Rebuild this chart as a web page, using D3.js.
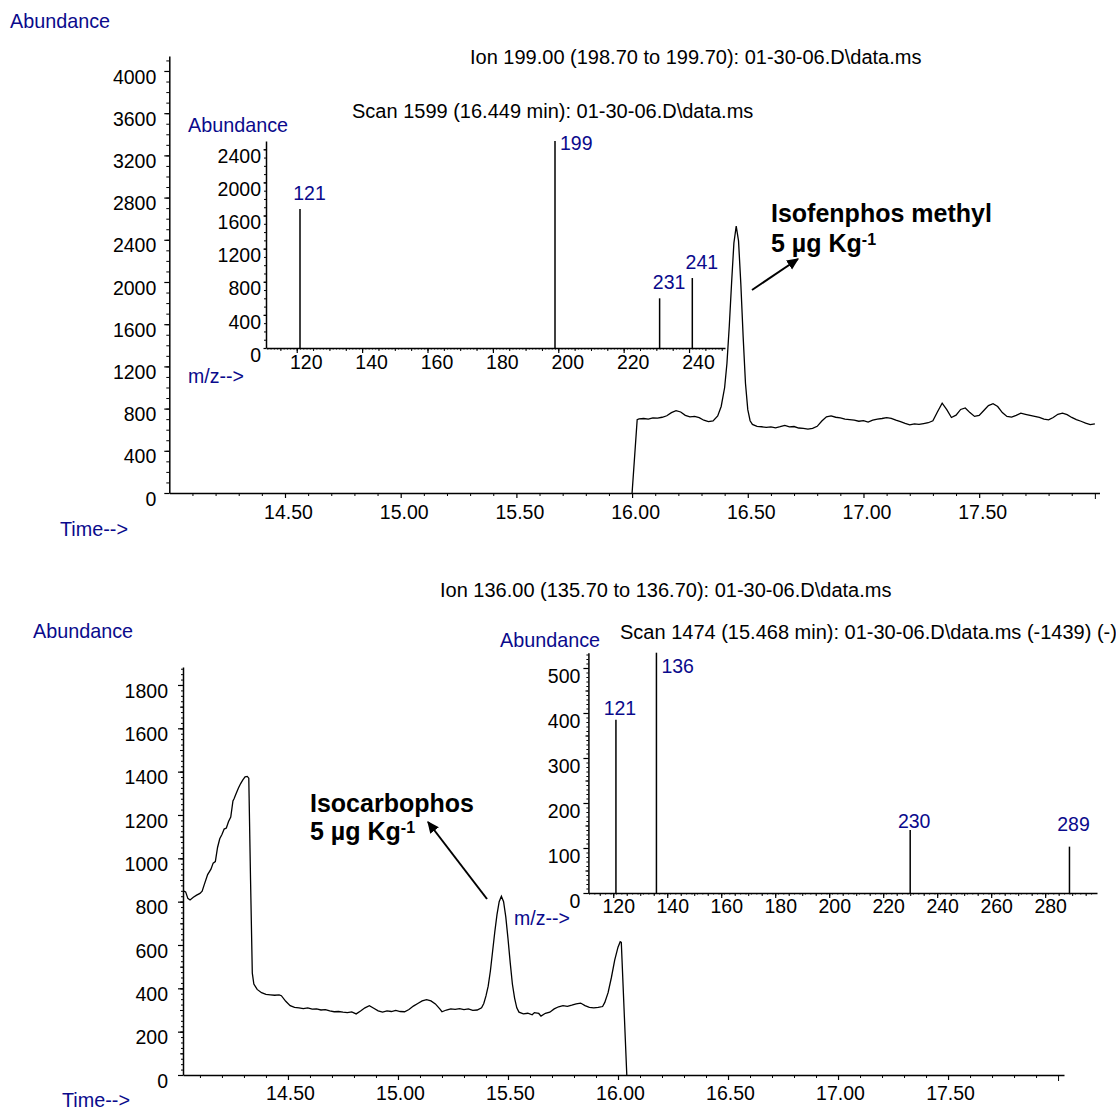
<!DOCTYPE html>
<html><head><meta charset="utf-8">
<script src="https://cdn.jsdelivr.net/npm/d3@7"></script>
<style>
body{margin:0;background:#fff}
text{font-family:"Liberation Sans",Arial,Helvetica,sans-serif}
</style>
</head><body>
<svg id="c" width="1116" height="1110"></svg>
<script>
// ---------------- DATA ----------------
// Top chromatogram: Ion 199.00
const topTime = [16.000,16.022,16.03,16.05,16.07,16.09,16.11,16.13,16.15,16.17,16.19,16.21,16.23,16.25,16.27,16.29,16.31,16.33,16.35,16.37,16.385,16.40,16.41,16.42,16.43,16.44,16.45,16.46,16.47,16.48,16.49,16.50,16.51,16.52,16.54,16.56,16.58,16.60,16.62,16.64,16.66,16.68,16.70,16.72,16.74,16.76,16.78,16.80,16.82,16.84,16.86,16.88,16.90,16.92,16.94,16.96,16.98,17.00,17.02,17.04,17.06,17.08,17.10,17.12,17.14,17.16,17.18,17.20,17.22,17.24,17.26,17.28,17.30,17.32,17.34,17.36,17.38,17.40,17.42,17.44,17.46,17.48,17.50,17.52,17.54,17.56,17.58,17.60,17.62,17.64,17.66,17.68,17.70,17.72,17.74,17.76,17.78,17.80,17.82,17.84,17.86,17.88,17.90,17.92,17.94,17.96,17.98,18.00];
const topAbund = [0,695,702,706,700,712,710,718,732,762,780,768,736,722,726,714,690,676,684,730,820,1000,1230,1580,1990,2370,2530,2390,1980,1480,1040,790,685,650,632,628,622,626,618,628,640,626,630,616,612,606,612,632,682,722,730,718,712,700,696,690,680,686,672,690,700,706,714,708,690,676,660,646,656,650,658,666,684,770,852,790,716,738,792,806,762,726,736,782,828,846,820,762,726,720,736,756,746,736,726,716,700,694,716,746,756,742,716,696,680,662,648,656];

// Bottom chromatogram: Ion 136.00
const botTime = [14.024,14.035,14.045,14.055,14.07,14.085,14.10,14.11,14.12,14.135,14.15,14.16,14.17,14.18,14.19,14.20,14.21,14.22,14.23,14.24,14.25,14.255,14.265,14.275,14.285,14.295,14.305,14.315,14.322,14.33,14.338,14.345,14.36,14.38,14.40,14.42,14.44,14.46,14.47,14.49,14.51,14.53,14.55,14.57,14.59,14.61,14.63,14.65,14.67,14.69,14.71,14.73,14.75,14.77,14.79,14.81,14.83,14.85,14.87,14.89,14.91,14.93,14.95,14.97,14.99,15.01,15.03,15.05,15.07,15.09,15.11,15.13,15.15,15.17,15.19,15.20,15.22,15.24,15.26,15.28,15.30,15.32,15.34,15.36,15.38,15.39,15.40,15.41,15.42,15.43,15.44,15.45,15.46,15.47,15.48,15.49,15.50,15.51,15.52,15.53,15.54,15.55,15.57,15.59,15.61,15.62,15.64,15.65,15.67,15.69,15.71,15.73,15.75,15.77,15.79,15.81,15.83,15.85,15.87,15.89,15.91,15.93,15.94,15.955,15.97,15.985,16.00,16.01,16.015,16.04];
const botAbund = [850,845,815,808,820,830,838,848,880,925,950,978,985,1050,1090,1110,1135,1140,1170,1190,1265,1275,1300,1325,1345,1362,1376,1378,1370,900,470,420,395,380,372,370,368,370,366,340,320,312,310,306,310,304,305,300,302,296,292,293,290,288,291,282,295,310,320,308,296,290,296,293,298,293,292,302,318,330,342,348,342,328,305,292,300,305,303,306,302,305,298,300,310,330,365,410,480,570,660,740,800,825,800,730,630,520,420,355,310,290,282,285,278,288,284,272,285,290,305,315,320,317,322,328,332,320,312,310,312,316,335,380,450,530,590,615,612,0];

// Mass spectra (insets)
const topMz = [121, 199, 231, 241];
const topMzAbund = [1680, 2500, 600, 845];
const botMz = [121, 136, 230, 289];
const botMzAbund = [385, 534, 140, 103];

// Tick labels
const topTimeTicks = [14.5, 15.0, 15.5, 16.0, 16.5, 17.0, 17.5];
const botTimeTicks = [14.5, 15.0, 15.5, 16.0, 16.5, 17.0, 17.5];
const topYTicks = [0, 400, 800, 1200, 1600, 2000, 2400, 2800, 3200, 3600, 4000];
const botYTicks = [0, 200, 400, 600, 800, 1000, 1200, 1400, 1600, 1800];
const topInsetYTicks = [0, 400, 800, 1200, 1600, 2000, 2400];
const topInsetXTicks = [120, 140, 160, 180, 200, 220, 240];
const botInsetYTicks = [0, 100, 200, 300, 400, 500];
const botInsetXTicks = [120, 140, 160, 180, 200, 220, 240, 260, 280];

// Texts
const topTitle = "Ion 199.00 (198.70 to 199.70): 01-30-06.D\\data.ms";
const topScan = "Scan 1599 (16.449 min): 01-30-06.D\\data.ms";
const botTitle = "Ion 136.00 (135.70 to 136.70): 01-30-06.D\\data.ms";
const botScan = "Scan 1474 (15.468 min): 01-30-06.D\\data.ms (-1439) (-)";
const topCompound = "Isofenphos methyl";
const botCompound = "Isocarbophos";
const concText = "5 µg Kg";

// ---------------- DRAW ----------------
const svg = d3.select("#c");
const NAVY = "#0a0a8c";
const FS = 19.5;

function txt(x, y, s, opts = {}) {
  const t = svg.append("text").attr("x", x).attr("y", y).attr("dy", "0.35em")
    .attr("font-size", opts.size || FS).attr("fill", opts.color || "#000")
    .attr("font-weight", opts.weight || "normal")
    .attr("text-anchor", opts.anchor || "start").text(s);
  return t;
}

function styleAxis(g) {
  g.selectAll("path.domain").attr("stroke", "#000").attr("stroke-width", 1.5);
  g.selectAll(".tick line").attr("stroke", "#000").attr("stroke-width", 1.2);
  g.selectAll("text").attr("font-size", FS).attr("fill", "#000")
    .attr("font-family", '"Liberation Sans",Arial,Helvetica,sans-serif');
}

function minorY(x0, scale, step, size) {
  const d = scale.domain();
  const vals = d3.range(0, d[1], step);
  const g = svg.append("g").attr("transform", `translate(${x0},0)`)
    .call(d3.axisLeft(scale).tickValues(vals).tickSize(size).tickFormat(() => ""));
  g.select("path.domain").remove();
  styleAxis(g);
  g.selectAll(".tick line").attr("stroke-width", 1);
}
function minorX(y0, scale, vals, size) {
  const g = svg.append("g").attr("transform", `translate(0,${y0})`)
    .call(d3.axisBottom(scale).tickValues(vals).tickSize(size).tickFormat(() => ""));
  g.select("path.domain").remove();
  styleAxis(g);
  g.selectAll(".tick line").attr("stroke-width", 1);
}

function yAxis(x0, scale, ticks, pad, dy, size) {
  const g = svg.append("g").attr("transform", `translate(${x0},0)`)
    .call(d3.axisLeft(scale).tickValues(ticks).tickSize(size || 5).tickSizeOuter(0).tickPadding(pad).tickFormat(d3.format("d")));
  styleAxis(g);
  g.selectAll("text").attr("dy", null).attr("y", 0).attr("transform", `translate(0,${dy})`).attr("dominant-baseline", "middle");
  return g;
}
function xAxis(y0, scale, ticks, below, dx, fmt) {
  const g = svg.append("g").attr("transform", `translate(0,${y0})`)
    .call(d3.axisBottom(scale).tickValues(ticks).tickSize(5).tickSizeOuter(0).tickFormat(fmt));
  styleAxis(g);
  g.selectAll("text").attr("y", below).attr("dy", null).attr("dominant-baseline", "middle").attr("transform", `translate(${dx},0)`);
  return g;
}

function arrow(x1, y1, x2, y2) {
  svg.append("line").attr("x1", x1).attr("y1", y1).attr("x2", x2).attr("y2", y2)
    .attr("stroke", "#000").attr("stroke-width", 2).attr("marker-end", "url(#ah)");
}
svg.append("defs").append("marker").attr("id", "ah").attr("viewBox", "0 0 10 10")
  .attr("refX", 9).attr("refY", 5).attr("markerWidth", 6).attr("markerHeight", 6)
  .attr("orient", "auto-start-reverse").attr("markerUnits", "strokeWidth")
  .append("path").attr("d", "M0,0.5 L10,5 L0,9.5 Z").attr("fill", "#000");

const minorTimes = d3.range(141, 180, 1).map(v => v / 10).filter(v => Math.abs(v * 2 - Math.round(v * 2)) > 1e-6);

// ======== TOP PANEL ========
{
  const x = d3.scaleLinear().domain([14.0, 18.02]).range([169.3, 1099.5]);
  const y = d3.scaleLinear().domain([0, 4142]).range([493, 56]);

  minorY(169.3, y, 100, 3);
  yAxis(169.3, y, topYTicks, 8, 7);
  minorX(493, x, minorTimes, 3);
  xAxis(493, x, topTimeTicks, 21, 3, d3.format(".2f"));
  minorX(493, x, [18.0], 6);

  const line = d3.line().x(d => x(d[0])).y(d => y(d[1]));
  svg.append("path").datum(topTime.map((t, i) => [t, topAbund[i]]))
    .attr("d", line).attr("fill", "none").attr("stroke", "#000").attr("stroke-width", 1.3);

  txt(10, 21, "Abundance", { color: NAVY, size: 19.8 });
  txt(60, 529, "Time-->", { color: NAVY, size: 19.8 });
  txt(470, 57, topTitle, { size: 20 });

  // inset spectrum
  const xi = d3.scaleLinear().domain([110.6, 251]).range([266, 725]);
  const yi = d3.scaleLinear().domain([0, 2500]).range([348, 141]);
  minorY(266, yi, 100, 2);
  yAxis(266, yi, topInsetYTicks, 2.5, 8, 2.5);
  minorX(348, xi, d3.range(111, 251, 1), 1.5);
  minorX(348, xi, d3.range(115, 251, 5), 3);
  xAxis(348, xi, topInsetXTicks, 16, 9, d3.format("d"));

  const pk = topMz.map((m, i) => ({ m, v: topMzAbund[i] }));
  svg.append("g").selectAll("line").data(pk).join("line")
    .attr("x1", d => xi(d.m)).attr("x2", d => xi(d.m))
    .attr("y1", yi(0)).attr("y2", d => yi(d.v))
    .attr("stroke", "#000").attr("stroke-width", 1.5);
  const base = d3.max(topMzAbund);
  svg.append("g").selectAll("text").data(pk).join("text")
    .attr("x", d => d.v === base ? xi(d.m) + 5 : xi(d.m) + 9.5)
    .attr("y", d => d.v === base ? yi(d.v) + 2 : yi(d.v) - 16)
    .attr("dy", "0.35em")
    .attr("text-anchor", d => d.v === base ? "start" : "middle")
    .attr("font-size", FS).attr("fill", NAVY).text(d => d.m);

  txt(188, 125, "Abundance", { color: NAVY, size: 19.8 });
  txt(188, 376, "m/z-->", { color: NAVY, size: 19.5 });
  txt(352, 111, topScan, { size: 20 });

  // annotation
  txt(771, 213, topCompound, { weight: "bold", size: 25 });
  const c = txt(771, 243, concText, { weight: "bold", size: 25 });
  c.append("tspan").attr("dy", "-0.45em").attr("font-size", 16).text("-1");
  arrow(752, 290, 798, 259);
}

// ======== BOTTOM PANEL ========
{
  const x = d3.scaleLinear().domain([14.023, 18.027]).range([183, 1064]);
  const y = d3.scaleLinear().domain([0, 1883]).range([1075, 667]);

  minorY(183, y, 25, 2);
  minorY(183, y, 100, 3);
  yAxis(183, y, botYTicks, 10, 7);
  minorX(1075, x, minorTimes, 3);
  xAxis(1075, x, botTimeTicks, 20, 2, d3.format(".2f"));
  minorX(1075, x, [18.0], 6);

  const line = d3.line().x(d => x(d[0])).y(d => y(d[1]));
  svg.append("path").datum(botTime.map((t, i) => [t, botAbund[i]]))
    .attr("d", line).attr("fill", "none").attr("stroke", "#000").attr("stroke-width", 1.3);

  txt(33, 631, "Abundance", { color: NAVY, size: 19.8 });
  txt(62, 1100, "Time-->", { color: NAVY, size: 19.8 });
  txt(440, 590, botTitle, { size: 20 });

  // inset spectrum
  const xi = d3.scaleLinear().domain([110.8, 299.2]).range([588.4, 1097]);
  const yi = d3.scaleLinear().domain([0, 534]).range([893, 652.7]);
  minorY(588.4, yi, 10, 2);
  minorY(588.4, yi, 50, 3);
  yAxis(588.4, yi, botInsetYTicks, 3, 9);
  minorX(893, xi, d3.range(111, 299, 2), 1.5);
  minorX(893, xi, d3.range(115, 299, 5), 3);
  xAxis(893, xi, botInsetXTicks, 15, 5, d3.format("d"));

  const pk = botMz.map((m, i) => ({ m, v: botMzAbund[i] }));
  const labelDy = [-12, 13, -9, -22];
  svg.append("g").selectAll("line").data(pk).join("line")
    .attr("x1", d => xi(d.m)).attr("x2", d => xi(d.m))
    .attr("y1", yi(0)).attr("y2", d => yi(d.v))
    .attr("stroke", "#000").attr("stroke-width", 1.5);
  const base = d3.max(botMzAbund);
  svg.append("g").selectAll("text").data(pk).join("text")
    .attr("x", d => d.v === base ? xi(d.m) + 5 : xi(d.m) + 4)
    .attr("y", (d, i) => yi(d.v) + labelDy[i])
    .attr("dy", "0.35em")
    .attr("text-anchor", d => d.v === base ? "start" : "middle")
    .attr("font-size", FS).attr("fill", NAVY).text(d => d.m);

  txt(500, 640, "Abundance", { color: NAVY, size: 19.8 });
  txt(514, 918, "m/z-->", { color: NAVY, size: 19.5 });
  txt(620, 632, botScan, { size: 20 });

  txt(310, 803, botCompound, { weight: "bold", size: 25 });
  const c = txt(310, 831, concText, { weight: "bold", size: 25 });
  c.append("tspan").attr("dy", "-0.45em").attr("font-size", 16).text("-1");
  arrow(487, 899, 428, 822);
}
</script>
</body></html>
